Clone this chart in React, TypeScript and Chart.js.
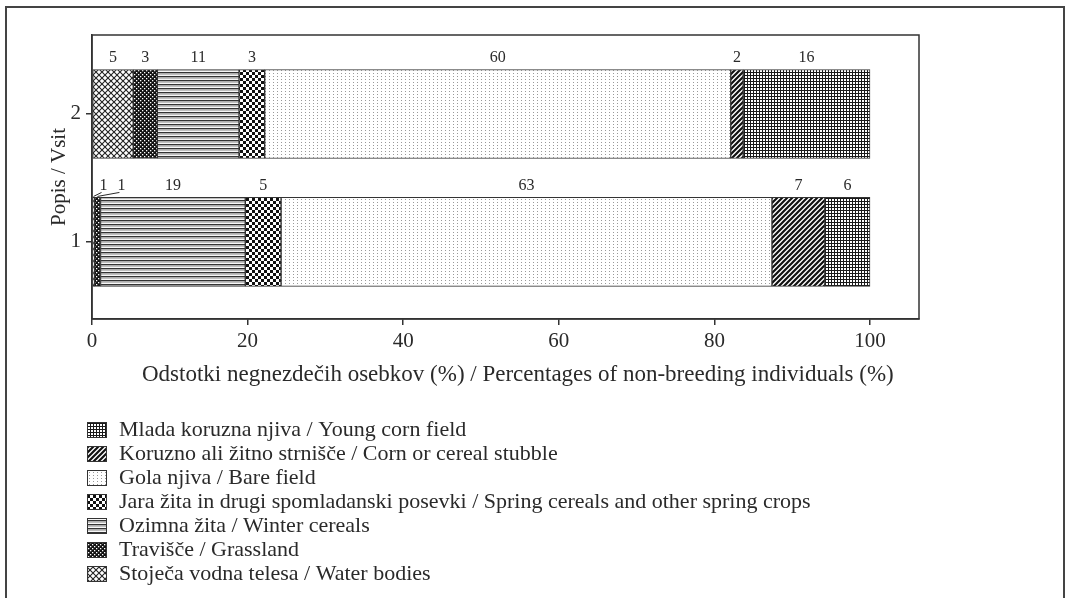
import React, { useEffect, useRef } from 'react';
import { Chart, registerables } from 'chart.js';

Chart.register(...registerables);

// ---- data ----
const surveys = [2, 1];
const categories = [
  'Stoječa vodna telesa / Water bodies',
  'Travišče / Grassland',
  'Ozimna žita / Winter cereals',
  'Jara žita in drugi spomladanski posevki / Spring cereals and other spring crops',
  'Gola njiva / Bare field',
  'Koruzno ali žitno strnišče / Corn or cereal stubble',
  'Mlada koruzna njiva / Young corn field',
];
const survey2Values = [5.3, 3.1, 10.5, 3.3, 59.9, 1.6, 16.3];
const survey1Values = [0.3, 0.8, 18.6, 4.6, 63.1, 6.8, 5.8];
const survey2Labels = ['5', '3', '11', '3', '60', '2', '16'];
const survey1Labels = ['1', '1', '19', '5', '63', '7', '6'];
const xTickValues = [0, 20, 40, 60, 80, 100];
const xTitle = 'Odstotki negnezdečih osebkov (%) / Percentages of non-breeding individuals (%)';
const yTitle = 'Popis / Vsit';

const FONT = '"Liberation Serif", "Times New Roman", serif';
const INK = '#2a2a2a';

function tile(w: number, h: number, draw: (c: CanvasRenderingContext2D) => void) {
  const cv = document.createElement('canvas');
  cv.width = w;
  cv.height = h;
  const c = cv.getContext('2d')!;
  c.fillStyle = '#fff';
  c.fillRect(0, 0, w, h);
  draw(c);
  return cv;
}

function makePatterns(ctx: CanvasRenderingContext2D): CanvasPattern[] {
  const water = tile(6, 6, (c) => {
    c.strokeStyle = '#222';
    c.lineWidth = 1.1;
    c.beginPath();
    c.moveTo(0, 0); c.lineTo(6, 6);
    c.moveTo(6, 0); c.lineTo(0, 6);
    c.stroke();
  });
  const grass = tile(4, 4, (c) => {
    c.fillStyle = '#111';
    c.fillRect(0, 0, 4, 4);
    c.fillStyle = '#fff';
    c.fillRect(0, 0, 1.3, 1.3);
    c.fillRect(2, 2, 1.3, 1.3);
  });
  const winter = tile(4, 4, (c) => {
    c.fillStyle = '#333';
    c.fillRect(0, 0, 4, 1.4);
    c.fillStyle = '#b0b0b0';
    c.fillRect(0, 2.2, 4, 0.9);
  });
  const spring = tile(6, 6, (c) => {
    c.fillStyle = '#111';
    c.fillRect(0, 0, 3, 3);
    c.fillRect(3, 3, 3, 3);
  });
  const bare = tile(4, 3, (c) => {
    c.fillStyle = '#999';
    c.fillRect(1, 1, 1, 1);
  });
  const stubble = tile(5, 5, (c) => {
    c.strokeStyle = '#111';
    c.lineWidth = 2.2;
    c.beginPath();
    c.moveTo(-1, 6); c.lineTo(6, -1);
    c.moveTo(-3.5, 3.5); c.lineTo(3.5, -3.5);
    c.moveTo(1.5, 8.5); c.lineTo(8.5, 1.5);
    c.stroke();
  });
  const corn = tile(3, 3, (c) => {
    c.fillStyle = '#1a1a1a';
    c.fillRect(0, 0, 3, 1);
    c.fillRect(0, 0, 1, 3);
  });
  return [water, grass, winter, spring, bare, stubble, corn].map(
    (t) => ctx.createPattern(t, 'repeat') as CanvasPattern
  );
}

// pixel nudges for the two tiny labels that use leader lines (survey 1)
const leaderOffsets: Record<string, number> = { '1-0': 10, '1-1': 24 };

const overlayPlugin = {
  id: 'overlay',
  afterDatasetsDraw(chart: any) {
    const { ctx, chartArea } = chart;
    ctx.save();
    ctx.font = `16px ${FONT}`;
    ctx.fillStyle = INK;
    ctx.textAlign = 'center';
    ctx.textBaseline = 'middle';
    chart.data.datasets.forEach((_ds: any, i: number) => {
      const meta = chart.getDatasetMeta(i);
      meta.data.forEach((el: any, j: number) => {
        const { x, y, base, height } = el.getProps(['x', 'y', 'base', 'height'], true);
        const labels = j === 0 ? survey2Labels : survey1Labels;
        const segCenter = (x + base) / 2;
        const dx = leaderOffsets[`${j}-${i}`] || 0;
        const lx = segCenter + dx;
        const ly = y - height / 2 - 12;
        ctx.fillText(labels[i], lx, ly);
        if (dx) {
          ctx.strokeStyle = INK;
          ctx.lineWidth = 1;
          ctx.beginPath();
          ctx.moveTo(lx - 2, ly + 7);
          ctx.lineTo(segCenter, y - height / 2 - 1);
          ctx.stroke();
        }
      });
    });
    // plot frame (top & right sides)
    ctx.strokeStyle = '#333';
    ctx.lineWidth = 1.5;
    ctx.strokeRect(chartArea.left, chartArea.top, chartArea.right - chartArea.left, chartArea.bottom - chartArea.top);
    ctx.restore();
  },
  afterDraw(chart: any) {
    const { ctx } = chart;
    ctx.save();
    // outer frame
    ctx.strokeStyle = '#444';
    ctx.lineWidth = 2;
    ctx.strokeRect(6, 7, 1058, 700);
    // x axis title
    ctx.font = `23px ${FONT}`;
    ctx.fillStyle = INK;
    ctx.textAlign = 'left';
    ctx.textBaseline = 'middle';
    ctx.fillText(xTitle, 142, 375);
    // legend
    const ds = chart.data.datasets.slice().reverse();
    ctx.font = `22px ${FONT}`;
    ds.forEach((d: any, k: number) => {
      const cy = 430 + k * 24;
      ctx.fillStyle = d.backgroundColor;
      ctx.fillRect(87, cy - 8, 20, 16);
      ctx.strokeStyle = '#333';
      ctx.lineWidth = 1;
      ctx.strokeRect(87.5, cy - 7.5, 19, 15);
      ctx.fillStyle = INK;
      ctx.fillText(d.label, 119, cy);
    });
    ctx.restore();
  },
};

export default function App() {
  const ref = useRef<HTMLCanvasElement>(null);
  useEffect(() => {
    document.body.style.margin = '0';
    const canvas = ref.current!;
    const ctx = canvas.getContext('2d')!;
    const patterns = makePatterns(ctx);
    const datasets = categories.map((c, i) => ({
      label: c,
      data: [
        { x: survey2Values[i], y: surveys[0] },
        { x: survey1Values[i], y: surveys[1] },
      ],
      backgroundColor: patterns[i],
      borderColor: '#333',
      borderWidth: 1,
      borderSkipped: false,
      barThickness: 89,
    }));
    const chart = new Chart(canvas, {
      type: 'bar',
      data: { datasets } as any,
      plugins: [overlayPlugin],
      options: {
        indexAxis: 'y',
        animation: false,
        responsive: false,
        layout: { padding: { left: 0, top: 35, right: 147, bottom: 209 } },
        plugins: { legend: { display: false }, tooltip: { enabled: false } },
        scales: {
          x: {
            type: 'linear',
            stacked: true,
            min: 0,
            max: 106.3,
            afterBuildTicks: (s: any) => {
              s.ticks = xTickValues.map((v) => ({ value: v }));
            },
            afterFit: (s: any) => {
              s.height = 70;
            },
            grid: { drawOnChartArea: false, drawTicks: true, tickLength: 6, color: '#333', lineWidth: 1.5 },
            border: { display: true, color: '#333', width: 1.5 },
            ticks: { font: { family: FONT, size: 21 }, color: INK, padding: 4, callback: (v: any) => String(v) },
            title: { display: false },
          },
          y: {
            type: 'linear',
            stacked: true,
            offset: false,
            min: 0.398,
            max: 2.617,
            afterBuildTicks: (s: any) => {
              s.ticks = surveys.map((v) => ({ value: v }));
            },
            afterFit: (s: any) => {
              s.width = 92;
            },
            grid: { offset: false, drawOnChartArea: false, drawTicks: true, tickLength: 6, color: '#333', lineWidth: 1.5 },
            border: { display: true, color: '#333', width: 1.5 },
            ticks: { font: { family: FONT, size: 21 }, color: INK, padding: 5, callback: (v: any) => String(v) },
            title: { display: true, text: yTitle, font: { family: FONT, size: 21 }, color: INK, padding: { top: 47, bottom: 0 } },
          },
        },
      } as any,
    });
    return () => chart.destroy();
  }, []);
  return <canvas ref={ref} width={1066} height={598} style={{ display: 'block', width: 1066, height: 598 }} />;
}
